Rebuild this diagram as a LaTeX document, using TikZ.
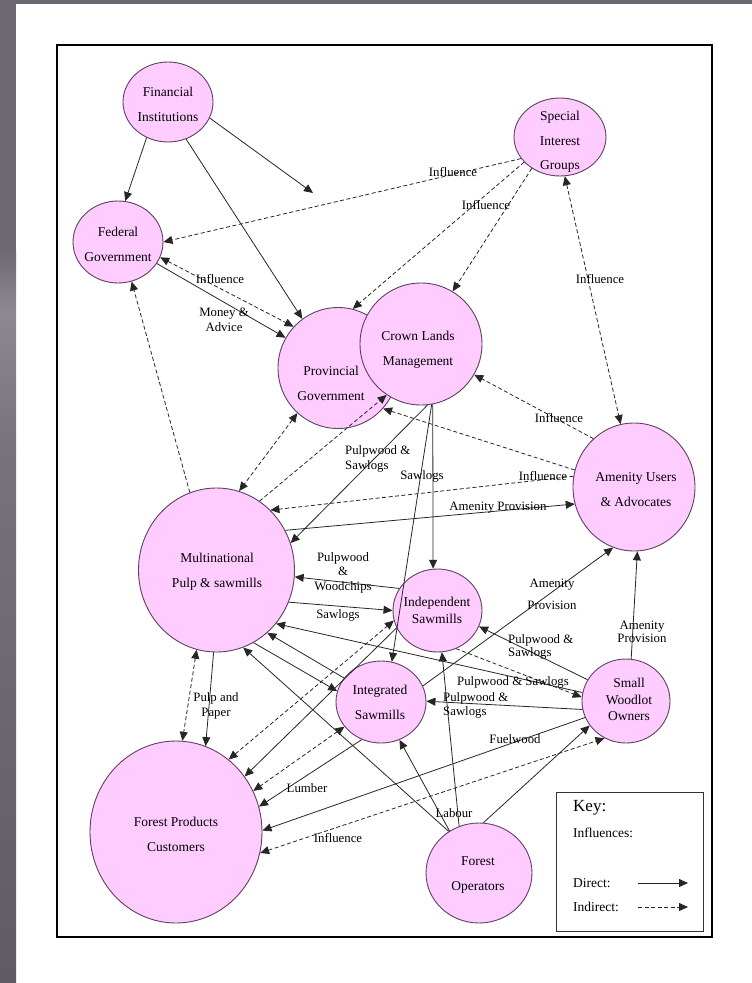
\documentclass[tikz,border=0pt]{standalone}
\usepackage{fontspec}
\setmainfont{Liberation Serif}
\usetikzlibrary{arrows.meta,shapes.geometric}
\definecolor{pinkfill}{RGB}{255,204,255}
\definecolor{ringcol}{RGB}{96,64,96}
\definecolor{sideA}{RGB}{108,106,112}
\definecolor{sideB}{RGB}{140,138,144}
\definecolor{sideC}{RGB}{118,116,122}
\definecolor{sideD}{RGB}{94,92,98}
\begin{document}
\begin{tikzpicture}[x=1pt,y=-1pt,
  ent/.style={ellipse,draw=ringcol,fill=pinkfill,line width=0.9pt,inner sep=0pt},
  ctext/.style={align=center,inner sep=0pt,font=\fontsize{13.5}{25}\selectfont},
  elab/.style={align=center,inner sep=0pt,font=\fontsize{12.8}{15}\selectfont},
  dir/.style={draw=black!85,line width=0.8pt,-{Triangle[length=9pt,width=8pt]}},
  ind/.style={dir,dash pattern=on 4pt off 2.5pt},
  both/.style={{Triangle[length=9pt,width=8pt]}-{Triangle[length=9pt,width=8pt]}}
]
\useasboundingbox (0,0) rectangle (752,983);
\fill[white] (0,0) rectangle (752,983);
% grey frame strips
\fill[sideA] (0,0) rectangle (752,4);
\fill[sideA] (0,0) rectangle (16,250);
\shade[top color=sideA,bottom color=sideB] (0,250) rectangle (16,310);
\shade[top color=sideB,bottom color=sideC] (0,310) rectangle (16,450);
\shade[top color=sideC,bottom color=sideD] (0,450) rectangle (16,983);
% panel
\draw[line width=1.1pt] (57,45) rectangle (712,937);

% entities
\node[ent,minimum width=90,minimum height=80] (fin) at (168,102) {};
\node[ctext] (fin-t) at (168,104.5) {Financial\\Institutions};
\node[ent,minimum width=92,minimum height=78] (sig) at (560,137) {};
\node[ctext,font=\fontsize{13.5}{24.5}\selectfont] (sig-t) at (560,142) {Special\\Interest\\Groups};
\node[ent,minimum width=90,minimum height=82] (fed) at (118,242) {};
\node[ctext] (fed-t) at (118,244) {Federal\\Government};
\node[ent,minimum width=120,minimum height=121] (prov) at (338,368) {};
\node[ctext] (prov-t) at (331,383) {Provincial\\Government};
\node[ent,minimum width=122,minimum height=122] (crown) at (421,344) {};
\node[ctext] (crown-t) at (418,350) {Crown Lands\\Management};
\node[ent,minimum width=122,minimum height=128] (amen) at (634,487) {};
\node[ctext] (amen-t) at (636,489.5) {Amenity Users\\\& Advocates};
\node[ent,minimum width=156,minimum height=164] (multi) at (216.5,570) {};
\node[ctext] (multi-t) at (217,571.5) {Multinational\\Pulp \& sawmills};
\node[ent,minimum width=89,minimum height=83] (indep) at (437.5,610.5) {};
\node[ctext,font=\fontsize{13.5}{17}\selectfont] (indep-t) at (437,610) {Independent\\Sawmills};
\node[ent,minimum width=90,minimum height=82] (integ) at (381,702) {};
\node[ctext] (integ-t) at (380,702.5) {Integrated\\Sawmills};
\node[ent,minimum width=88,minimum height=84] (wood) at (626,701) {};
\node[ctext,font=\fontsize{13.5}{16.5}\selectfont] (wood-t) at (629,699.5) {Small\\Woodlot\\Owners};
\node[ent,minimum width=172,minimum height=182] (cust) at (176,832) {};
\node[ctext] (cust-t) at (176,834.5) {Forest Products\\Customers};
\node[ent,minimum width=106,minimum height=100] (ops) at (479,873) {};
\node[ctext] (ops-t) at (478,875.5) {Forest\\Operators};

\coordinate (fx) at (313,193);

% connectors
\draw[dir] (fin.-121) -- (fed.80);
\draw[dir] (fin.-64) -- (prov.126);
\draw[dir] (fin.-21) -- (fx);
\draw[ind] (sig.-151) -- (fed.0);
\draw[ind] (sig.-145) -- (prov.76);
\draw[ind] (sig.-132) -- (crown.59);
\draw[ind,both] (sig.-83) -- (amen.102);
\draw[dir] (fed.-29) -- (prov.150);
\draw[ind,both] (fed.-20) -- (prov.137);
\draw[ind] (multi.109.6) -- (fed.-71.6);
\draw[ind,both] (prov.-132.6) -- (multi.74.5);
\draw[ind] (multi.58) -- (crown.-124);
\draw[dir] (crown.-84.6) -- (multi.20);
\draw[ind] (amen.130.6) -- (crown.-30);
\draw[ind] (amen.164.5) -- (prov.-42);
\draw[ind] (amen.170.5) -- (multi.48.9);
\draw[dir] (multi.30) -- (amen.-164);
\draw[dir] (crown.-79) -- (indep.96);
\draw[dir] (crown.-80) -- (integ.75.7);
\draw[dir] (indep.150.8) -- (multi.-5.8);
\draw[dir] (multi.-24.8) -- (indep.180);
\draw[ind,both] (cust.54) -- (indep.-167.5);
\draw[dir] (indep.-157.6) -- (cust.39.8);
\draw[ind,both] (multi.-104) -- (cust.86);
\draw[dir] (multi.-92.4) -- (cust.71.6);
\draw[dir] (multi.-63.4) -- (integ.166.8);
\draw[dir] (integ.147.7) -- (multi.-51);
\draw[dir] (wood.169.7) -- (multi.-42.4);
\draw[dir] (ops.126.9) -- (multi.-71.9);
\draw[dir] (ops.125) -- (integ.-64.4);
\draw[dir] (ops.113) -- (indep.-84.5);
\draw[dir] (ops.85) -- (wood.-146);
\draw[dir] (wood.151.6) -- (indep.-21.5);
\draw[ind] (indep.-64.8) -- (wood.175);
\draw[dir] (wood.-169.7) -- (integ.1);
\draw[dir] (integ.21) -- (amen.-109);
\draw[dir] (wood.83) -- (amen.-87.5);
\draw[ind,both] (integ.-146.9) -- (cust.28.2);
\draw[dir] (integ.-117) -- (cust.17.7);
\draw[dir] (wood.-158.9) -- (cust.1);
\draw[ind,both] (cust.-14.5) -- (wood.-120.6);

% connector labels
\node[elab] (l1) at (453,172) {Influence};
\node[elab] (l2) at (486,205) {Influence};
\node[elab] (l3) at (600,279) {Influence};
\node[elab] (l4) at (220,279) {Influence};
\node[elab] (l5) at (224,319.5) {Money \&\\Advice};
\node[elab,align=left,anchor=west] (l6) at (345,458.5) {Pulpwood \&\\Sawlogs};
\node[elab] (l7) at (422,476) {Sawlogs};
\node[elab] (l8) at (559,418) {Influence};
\node[elab] (l9) at (543,476) {Influence};
\node[elab] (l10) at (498,508) {Amenity Provision};
\node[elab,font=\fontsize{12.8}{14.5}\selectfont] (l11) at (343,572.5) {Pulpwood\\\&\\Woodchips};
\node[elab] (l12) at (338,615) {Sawlogs};
\node[elab,font=\fontsize{12.8}{22}\selectfont] (l13) at (552,594) {Amenity\\Provision};
\node[elab,font=\fontsize{12.8}{13}\selectfont] (l14) at (642,631.5) {Amenity\\Provision};
\node[elab,align=left,anchor=west,font=\fontsize{12.8}{13}\selectfont] (l15) at (508,646.5) {Pulpwood \&\\Sawlogs};
\node[elab] (l16) at (513,682) {Pulpwood \& Sawlogs};
\node[elab,align=left,anchor=west,font=\fontsize{12.8}{14}\selectfont] (l17) at (443,705) {Pulpwood \&\\Sawlogs};
\node[elab] (l18) at (216,705.5) {Pulp and\\Paper};
\node[elab] (l19) at (307,788) {Lumber};
\node[elab] (l20) at (515,739) {Fuelwood};
\node[elab] (l21) at (338,838) {Influence};
\node[elab] (l22) at (454,813) {Labour};

% key
\node[draw=black!80,line width=1pt,minimum width=147,minimum height=139,inner sep=0pt] (key) at (629.5,861.5) {};
\node[anchor=west,inner sep=0pt,font=\fontsize{17}{18}\selectfont] (k1) at (573,808) {Key:};
\node[anchor=west,inner sep=0pt,font=\fontsize{13.5}{15}\selectfont] (k2) at (573,833) {Influences:};
\node[anchor=west,inner sep=0pt,font=\fontsize{13.5}{15}\selectfont] (k3) at (573,883) {Direct:};
\node[anchor=west,inner sep=0pt,font=\fontsize{13.5}{15}\selectfont] (k4) at (573,907) {Indirect:};
\coordinate (ka1) at (638,883);
\coordinate (kb1) at (688,883);
\coordinate (ka2) at (638,907);
\coordinate (kb2) at (688,907);
\draw[dir] (ka1) -- (kb1);
\draw[ind] (ka2) -- (kb2);
\end{tikzpicture}
\end{document}
